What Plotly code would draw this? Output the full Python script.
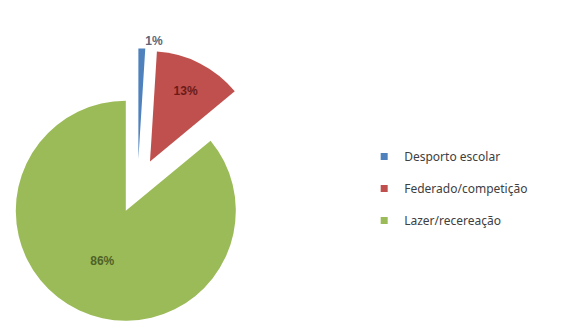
import plotly.graph_objects as go

labels = ["Desporto escolar", "Federado/competição", "Lazer/recereação"]
values = [1, 13, 86]
colors = ["#4F81BD", "#C0504D", "#9BBB59"]
text_colors = ["#5b6577", "#6b1a18", "#4f6228"]
text_positions = ["outside", "inside", "inside"]

fig = go.Figure()
fig.add_trace(go.Pie(
    labels=labels,
    values=values,
    sort=False,
    direction="clockwise",
    rotation=0,
    pull=[0.25, 0.25, 0.25],
    marker=dict(colors=colors, line=dict(width=0)),
    texttemplate="%{value}%",
    textposition=text_positions,
    textfont=dict(family="Liberation Sans", size=12, color=text_colors, weight=600),
    insidetextorientation="horizontal",
    domain=dict(x=[0.0, 0.475], y=[0.0, 0.856]),
    showlegend=False,
    automargin=False,
))

# legend-only entries (no data points) to reproduce the spaced legend
for lab, col in zip(labels, colors):
    fig.add_trace(go.Scatter(
        x=[None], y=[None], mode="markers", name=lab, legendgroup=lab,
        marker=dict(symbol="square", size=7, color=col),
        showlegend=True, hoverinfo="skip",
    ))

fig.update_layout(
    width=579, height=325,
    margin=dict(l=0, r=0, t=0, b=0, autoexpand=False),
    paper_bgcolor="white",
    plot_bgcolor="white",
    xaxis=dict(visible=False),
    yaxis=dict(visible=False),
    legend=dict(
        x=0.629, y=0.42, xanchor="left", yanchor="middle",
        traceorder="grouped", tracegroupgap=13,
        font=dict(family="Noto Sans", size=12, color="#404040"),
    ),
)

fig.write_html("out.html")
